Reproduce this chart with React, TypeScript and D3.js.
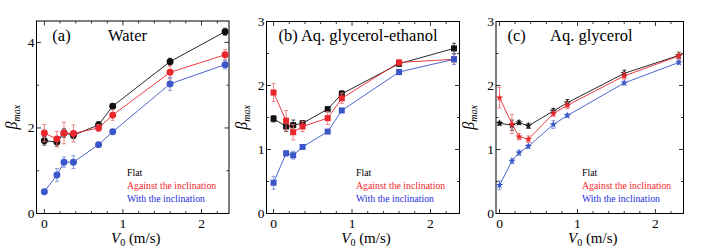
import React from 'react';
import * as d3 from 'd3';

// speeds (m/s)
const V0 = [0, 0.16, 0.25, 0.37, 0.69, 0.87, 1.6, 2.3];

// (a) Water
const waterFlat = [1.7, 1.67, 1.88, 1.83, 2.07, 2.51, 3.55, 4.25];
const waterFlatErr = [0.1, 0.1, 0.1, 0.08, 0.08, 0.05, 0.08, 0.08];
const waterAgainst = [1.88, 1.74, 1.88, 1.87, 2.0, 2.3, 3.3, 3.71];
const waterAgainstErr = [0.2, 0.18, 0.25, 0.2, 0.08, 0.12, 0.15, 0.12];
const waterWith = [0.51, 0.9, 1.2, 1.2, 1.61, 1.91, 3.03, 3.48];
const waterWithErr = [0.04, 0.15, 0.12, 0.15, 0.04, 0.04, 0.15, 0.1];

// (b) Aq. glycerol-ethanol
const geFlat = [1.48, 1.36, 1.38, 1.41, 1.63, 1.87, 2.34, 2.58];
const geFlatErr = [0.05, 0.08, 0.08, 0.04, 0.04, 0.05, 0.04, 0.08];
const geAgainst = [1.89, 1.45, 1.27, 1.36, 1.49, 1.8, 2.36, 2.41];
const geAgainstErr = [0.14, 0.16, 0.12, 0.08, 0.1, 0.08, 0.04, 0.08];
const geWith = [0.48, 0.94, 0.91, 1.04, 1.28, 1.61, 2.21, 2.41];
const geWithErr = [0.1, 0.04, 0.06, 0.03, 0.03, 0.03, 0.04, 0.08];

// (c) Aq. glycerol
const gFlat = [1.41, 1.38, 1.42, 1.37, 1.6, 1.73, 2.19, 2.47];
const gFlatErr = [0.03, 0.08, 0.03, 0.04, 0.04, 0.05, 0.05, 0.05];
const gAgainst = [1.81, 1.4, 1.2, 1.16, 1.56, 1.69, 2.15, 2.46];
const gAgainstErr = [0.16, 0.15, 0.05, 0.05, 0.04, 0.05, 0.05, 0.05];
const gWith = [0.44, 0.82, 0.95, 1.05, 1.39, 1.53, 2.04, 2.36];
const gWithErr = [0.07, 0.04, 0.04, 0.03, 0.06, 0.03, 0.03, 0.03];

const legendLabels = ['Flat', 'Against the inclination', 'With the inclination'];
const lineColors = ['#111', '#e8262b', '#3a56c8'];
const barColors = ['#333', '#f07478', '#7d8fdc'];
const legendColors = ['#000', '#f2262b', '#2430e0'];

const font = 'Times New Roman';

type Series = { y: number[]; err: number[] };

type Panel = {
  left: number; right: number; top: number; bottom: number;
  xDomain: [number, number]; yMax: number; yStep: number; yLabelStep: number;
  tag: string; title: string; titleX: number; symbol: d3.SymbolType; symSize: number;
  series: Series[]; legendX: number; ylabX: number;
};

const panels: Panel[] = [
  {
    left: 36.5, right: 229, top: 21, bottom: 213.5, xDomain: [-0.1, 2.35], yMax: 4.5, yStep: 1, yLabelStep: 2,
    tag: '(a)', title: 'Water', titleX: 108, symbol: d3.symbolCircle, symSize: 38,
    series: [
      { y: waterFlat, err: waterFlatErr },
      { y: waterAgainst, err: waterAgainstErr },
      { y: waterWith, err: waterWithErr },
    ],
    legendX: 127, ylabX: 17,
  },
  {
    left: 266.5, right: 459.5, top: 21.5, bottom: 213.5, xDomain: [-0.09, 2.37], yMax: 3, yStep: 0.5, yLabelStep: 1,
    tag: '(b)', title: 'Aq. glycerol-ethanol', titleX: 0, symbol: d3.symbolSquare, symSize: 36,
    series: [
      { y: geFlat, err: geFlatErr },
      { y: geAgainst, err: geAgainstErr },
      { y: geWith, err: geWithErr },
    ],
    legendX: 356, ylabX: 247,
  },
  {
    left: 496, right: 683.5, top: 21.5, bottom: 213.5, xDomain: [-0.045, 2.36], yMax: 3, yStep: 0.5, yLabelStep: 1,
    tag: '(c)', title: 'Aq. glycerol', titleX: 550, symbol: d3.symbolStar, symSize: 18,
    series: [
      { y: gFlat, err: gFlatErr },
      { y: gAgainst, err: gAgainstErr },
      { y: gWith, err: gWithErr },
    ],
    legendX: 582, ylabX: 474,
  },
];

function T(props: any) {
  return <text fontFamily={font} {...props} />;
}

function PanelView({ p }: { p: Panel }) {
  const x = d3.scaleLinear().domain(p.xDomain).range([p.left, p.right]);
  const y = d3.scaleLinear().domain([0, p.yMax]).range([p.bottom, p.top]);
  const line = d3.line<number>().x((_, i) => x(V0[i])).y((d) => y(d));
  const sym = d3.symbol().type(p.symbol).size(p.symSize);

  const xMinor = d3.range(0, 2.3, 0.2);
  const xMajor = [0, 1, 2];
  const yTicks = d3.range(0, p.yMax + 1e-6, p.yStep);

  return (
    <g>
      {/* frame */}
      <rect x={p.left} y={p.top} width={p.right - p.left} height={p.bottom - p.top} fill="none" stroke="#000" strokeWidth={1} />
      {/* x ticks, bottom and top */}
      {xMinor.map((t) => {
        const major = xMajor.some((m) => Math.abs(m - t) < 1e-6);
        const len = major ? 4.5 : 2.5;
        return (
          <g key={'x' + t} stroke="#000" strokeWidth={0.8}>
            <line x1={x(t)} x2={x(t)} y1={p.bottom} y2={p.bottom - len} />
            <line x1={x(t)} x2={x(t)} y1={p.top} y2={p.top + len} />
          </g>
        );
      })}
      {xMajor.map((t) => (
        <T key={'xl' + t} x={x(t)} y={p.bottom + 14} textAnchor="middle" fontSize={13.5}>{t}</T>
      ))}
      {/* y ticks, left and right */}
      {yTicks.map((t) => {
        const lab = Math.abs(t / p.yLabelStep - Math.round(t / p.yLabelStep)) < 1e-6;
        const len = lab ? 4.5 : 2.5;
        return (
          <g key={'y' + t}>
            <line x1={p.left} x2={p.left + len} y1={y(t)} y2={y(t)} stroke="#000" strokeWidth={0.8} />
            <line x1={p.right} x2={p.right - len} y1={y(t)} y2={y(t)} stroke="#000" strokeWidth={0.8} />
            {lab && (
              <T x={p.left - 2} y={y(t) + 4.5} textAnchor="end" fontSize={13.5}>{t}</T>
            )}
          </g>
        );
      })}
      {/* title */}
      {p.titleX ? (
        <>
          <T x={x(0) + 8} y={41} fontSize={16.5}>{p.tag}</T>
          <T x={p.titleX} y={41} fontSize={16.5}>{p.title}</T>
        </>
      ) : (
        <T x={p.left + 12} y={41} fontSize={16.5}>{p.tag + ' ' + p.title}</T>
      )}
      {/* series */}
      {p.series.map((s, si) => (
        <g key={'s' + si}>
          <path d={line(s.y) || ''} fill="none" stroke={lineColors[si]} strokeWidth={0.9} />
          {s.y.map((v, i) => (
            <g key={i} stroke={barColors[si]} strokeWidth={0.9}>
              <line x1={x(V0[i])} x2={x(V0[i])} y1={y(v - s.err[i])} y2={y(v + s.err[i])} />
              <line x1={x(V0[i]) - 2} x2={x(V0[i]) + 2} y1={y(v - s.err[i])} y2={y(v - s.err[i])} />
              <line x1={x(V0[i]) - 2} x2={x(V0[i]) + 2} y1={y(v + s.err[i])} y2={y(v + s.err[i])} />
            </g>
          ))}
          {s.y.map((v, i) => (
            <path key={'m' + i} d={sym() || ''} transform={`translate(${x(V0[i])},${y(v)})`} fill={lineColors[si]} />
          ))}
        </g>
      ))}
      {/* legend */}
      {legendLabels.map((l, i) => (
        <T key={l} x={p.legendX} y={176 + i * 13} fontSize={9.8} fill={legendColors[i]}>{l}</T>
      ))}
      {/* axis titles */}
      <T x={(p.left + p.right) / 2 + 3} y={243} textAnchor="middle" fontSize={15}>
        <tspan fontStyle="italic">V</tspan>
        <tspan fontSize={10} dy={3}>0</tspan>
        <tspan dy={-3}> (m/s)</tspan>
      </T>
      <T transform={`translate(${p.ylabX},${(p.top + p.bottom) / 2}) rotate(-90)`} textAnchor="middle" fontSize={16}>
        <tspan fontStyle="italic">β</tspan>
        <tspan fontSize={10} dy={3} fontStyle="italic">max</tspan>
      </T>
    </g>
  );
}

export default function App() {
  return (
    <svg width={706} height={252} style={{ position: 'absolute', left: 0, top: 0, background: '#fff' }}>
      {panels.map((p, i) => (
        <PanelView key={i} p={p} />
      ))}
    </svg>
  );
}
